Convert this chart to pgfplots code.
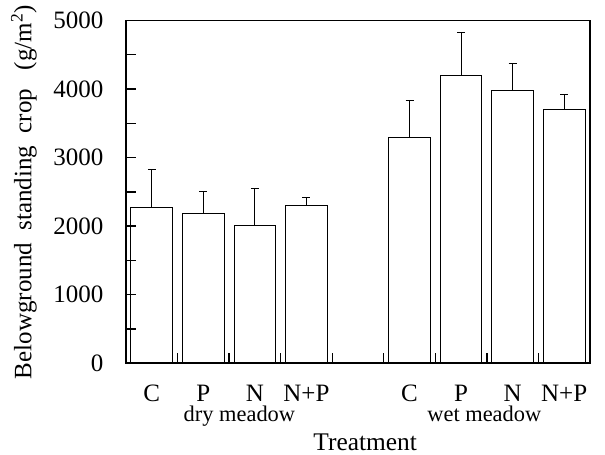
\documentclass[border=0pt]{standalone}
\usepackage{fontspec}
\setmainfont{Liberation Serif}
\usepackage{pgfplots}
\pgfplotsset{compat=1.18}
\begin{document}
\begin{tikzpicture}
\begin{axis}[
  at={(0,0)}, anchor=south west,
  scale only axis, width=232pt, height=171.4pt,
  xmin=-0.5, xmax=8.5, ymin=0, ymax=5000,
  clip=false, axis on top,
  axis line style={line width=0.9pt},
  tick align=inside,
  xtick={0.5,1.5,2.5,3.5,4.5,5.5,6.5,7.5}, xticklabels={},
  xtick pos=bottom, ytick pos=left,
  major tick length=5pt, minor tick length=5pt,
  tick style={line width=0.7pt, black},
  ytick={0,1000,2000,3000,4000,5000},
  minor ytick={500,1500,2500,3500,4500},
  /pgf/number format/assume math mode=true,
  /pgf/number format/1000 sep={},
  yticklabel style={font=\fontsize{12.5}{15}\selectfont, xshift=-7.8pt},
  ylabel={Belowground\ \ standing\ \ crop\ \ \ (g/m\textsuperscript{2})},
  ylabel style={font=\fontsize{12.5}{14}\selectfont,
     at={(axis description cs:-0.22,0.5)}, anchor=center},
  extra x ticks={0,1,2,3,5,6,7,8},
  extra x tick labels={C,P,N,N+P,C,P,N,N+P},
  extra x tick style={major tick length=0pt, tick style={draw=none},
     ticklabel style={font=\fontsize{12.5}{15}\selectfont, anchor=base, yshift=-19.2pt}},
]
\addplot[ybar, bar width=0.81, draw=black, line width=0.5pt, fill=white,
  error bars/.cd, y dir=plus, y explicit,
  error bar style={line width=0.5pt, black},
  error mark options={rotate=90, mark size=2pt, line width=0.5pt, black}]
coordinates {
 (0,2272) +- (0,562)
 (1,2189) +- (0,323)
 (2,2010) +- (0,545)
 (3,2296) +- (0,126)
 (5,3294) +- (0,533)
 (6,4205) +- (0,615)
 (7,3972) +- (0,397)
 (8,3701) +- (0,223)
};
\node[font=\fontsize{11.2}{13}\selectfont, anchor=base] at ([yshift=-29.2pt]axis cs:1.7,0) {dry meadow};
\node[font=\fontsize{11.2}{13}\selectfont, anchor=base] at ([yshift=-29.2pt]axis cs:6.45,0) {wet meadow};
\node[font=\fontsize{12.7}{15}\selectfont, anchor=base] at ([yshift=-43.7pt]axis cs:4.14,0) {Treatment};
\end{axis}
\pgfresetboundingbox
\path[use as bounding box] (-63pt,-45.85pt) rectangle (239.5pt,181.65pt);
\end{tikzpicture}
\end{document}
